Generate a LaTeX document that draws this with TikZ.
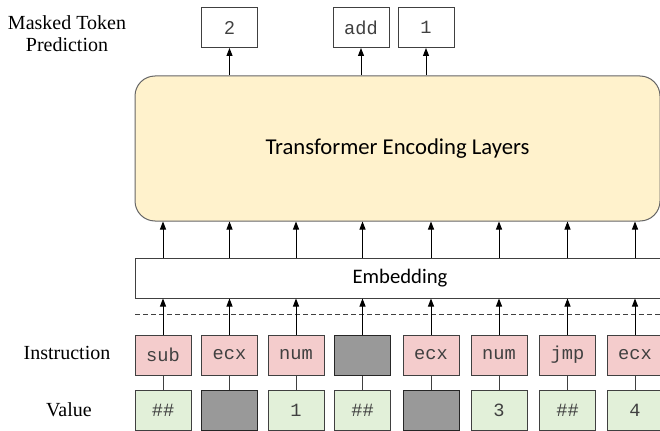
\documentclass[tikz,border=0pt]{standalone}
\usepackage{fontspec}
\setmainfont{Liberation Serif}
\setsansfont{Carlito}
\setmonofont{Liberation Mono}
\newfontfamily\arialfont{Liberation Sans}
\usetikzlibrary{arrows.meta}

\definecolor{instrred}{RGB}{244,204,204}
\definecolor{valgreen}{RGB}{226,240,217}
\definecolor{maskgray}{RGB}{153,153,153}
\definecolor{encyellow}{RGB}{255,242,204}

\tikzset{every picture/.style={line width=0.75pt}}
\tikzset{
	tokbox/.style={draw=black!75, minimum width=42pt, minimum height=30pt, inner sep=0pt, text=black!75, font=\ttfamily\fontsize{14}{14}\selectfont},
	instr/.style={tokbox, fill=instrred},
	val/.style={tokbox, fill=valgreen},
	masked/.style={tokbox, fill=maskgray, draw=black!85},
	outbox/.style={tokbox, fill=white},
	uparrow/.style={-{Triangle[length=6pt,width=4.5pt]}, black},
	sidelabel/.style={font=\fontsize{15}{16.3}\selectfont, align=center},
}

\begin{document}
\begin{tikzpicture}[x=0.75pt,y=0.75pt,yscale=-1,xscale=1]
	\useasboundingbox (0,0) rectangle (660,431);

	% Text Node
	\node (mtp) [sidelabel] at (67,34) {Masked Token\\Prediction};
	% Text Node
	\node (lblinstr) [sidelabel] at (67,353) {Instruction};
	% Text Node
	\node (lblval) [sidelabel] at (69,410) {Value};

	%Rounded Rect [encoder]
	\node (enc) [draw=black!60, fill=encyellow, rounded corners=15pt, minimum width=393.75pt, minimum height=108.75pt, font=\sffamily\fontsize{17}{17}\selectfont] at (397.5,148.5) {Transformer Encoding Layers};
	%Shape: Rectangle [embedding]
	\node (emb) [draw=black!75, fill=white, minimum width=397.5pt, minimum height=30pt, font=\sffamily\fontsize{15.5}{15.5}\selectfont] at (400,278) {Embedding};
	%Dashed Lines
	\draw [dashed, dash pattern=on 3.5pt off 2.5pt, black!75] (135,314) -- (660,314) ;

	%Token columns
	\foreach \cx/\itok/\istyle/\vtok/\vstyle [count=\k] in {163/sub/instr/\#\#/val, 229.5/ecx/instr//masked, 296/num/instr/1/val, 362.5//masked/\#\#/val, 431/ecx/instr//masked, 499/num/instr/3/val, 567.5/jmp/instr/\#\#/val, 635/ecx/instr/4/val}{
		\node (i\k) [\istyle] at (\cx,355) {\itok};
		\node (v\k) [\vstyle] at (\cx,410) {\vtok};
		\draw [black!75] (v\k.north) -- (i\k.south) ;
		\draw [uparrow] (i\k.north) -- (i\k.north |- emb.south) ;
		\draw [uparrow] (emb.north -| i\k) -- (enc.south -| i\k) ;
	}

	%Output boxes
	\node (o2) [outbox, font=\arialfont\fontsize{14}{14}\selectfont] at (229.5,27.5) {2};
	\node (oadd) [outbox] at (361,27.5) {add};
	\node (o1) [outbox] at (426,27.5) {1};
	\foreach \o in {o2,oadd,o1}
		\draw [uparrow] (enc.north -| \o) -- (\o.south) ;

\end{tikzpicture}
\end{document}
